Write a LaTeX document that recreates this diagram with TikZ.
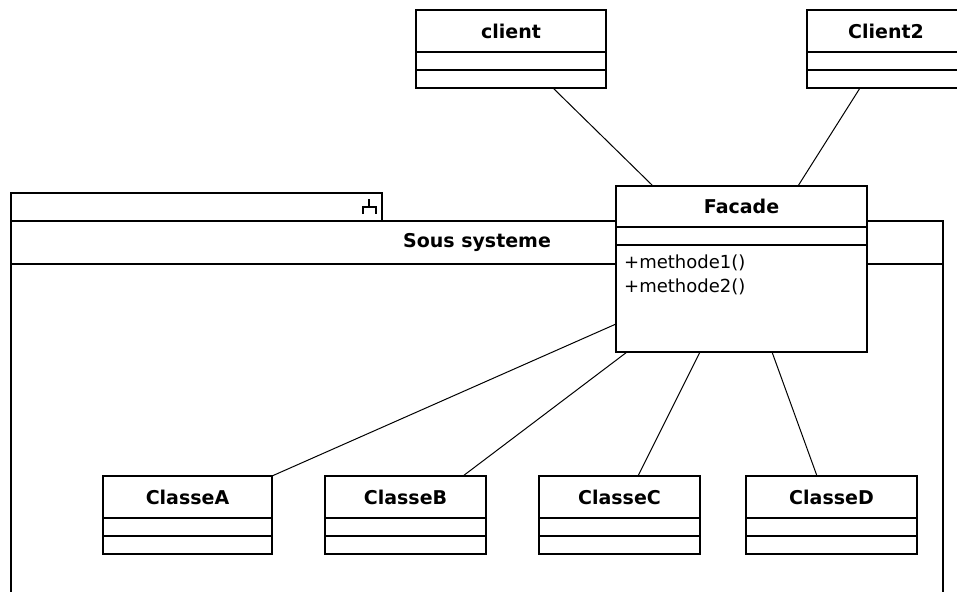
\documentclass[tikz,border=0pt]{standalone}
\usepackage{fontspec}
\setmainfont{DejaVu Sans}
\usepackage{tikz}
\usetikzlibrary{positioning}

\tikzset{
  clstitle/.style={draw, line width=1.3pt, fill=white, inner sep=0pt, outer sep=0pt,
    minimum height=42pt, font=\fontsize{19}{20}\selectfont\bfseries},
  clspart/.style={draw, line width=1.3pt, fill=white, inner sep=0pt, outer sep=0pt,
    minimum height=18pt},
  assoc/.style={line width=1pt}
}

\begin{document}
\begin{tikzpicture}[x=1pt, y=-1pt]
      \fill[white] (0,0) rectangle (957,591);
      \useasboundingbox (0,0) rectangle (957,591);

      % package
      \node[draw, line width=1.3pt, inner sep=0pt, outer sep=0pt, minimum width=371pt, minimum height=28pt] (pkgtab) at (196.5,207) {};
      \draw[line width=1.3pt] (11,600) -- (11,221) -- (943,221) -- (943,600);
      \draw[line width=1.3pt] (11,264) -- (943,264);
      \node[font=\fontsize{19}{20}\selectfont\bfseries] (pkgname) at (477,242.5) {Sous systeme};
      \draw[line width=1.3pt] (369,199) -- (369,207) (363,214) -- (363,207) -- (376,207) -- (376,214);

      % clients
      \node[clstitle, minimum width=190pt] (client) at (511,31) {client};
      \node[clspart, minimum width=190pt, below=0pt of client] (clientA) {};
      \node[clspart, minimum width=190pt, below=0pt of clientA] (clientO) {};

      \node[clstitle, minimum width=158pt] (client2) at (886,31) {Client2};
      \node[clspart, minimum width=158pt, below=0pt of client2] (client2A) {};
      \node[clspart, minimum width=158pt, below=0pt of client2A] (client2O) {};

      % facade
      \node[clstitle, minimum width=251pt, minimum height=41pt] (facade) at (741.5,206.5) {Facade};
      \node[clspart, minimum width=251pt, below=0pt of facade] (facadeA) {};
      \node[clspart, minimum width=251pt, minimum height=107pt, below=0pt of facadeA] (facadeO) {};
      \node[anchor=north west, align=left, inner sep=0pt, font=\fontsize{18}{24}\selectfont] (methods)
        at ([xshift=8pt,yshift=-10pt]facadeO.north west) {+methode1()\\+methode2()};

      % classes of the subsystem
      \node[clstitle, minimum width=169pt] (classeA) at (187.5,497) {ClasseA};
      \node[clspart, minimum width=169pt, below=0pt of classeA] (classeAA) {};
      \node[clspart, minimum width=169pt, below=0pt of classeAA] (classeAO) {};

      \node[clstitle, minimum width=161pt] (classeB) at (405.5,497) {ClasseB};
      \node[clspart, minimum width=161pt, below=0pt of classeB] (classeBA) {};
      \node[clspart, minimum width=161pt, below=0pt of classeBA] (classeBO) {};

      \node[clstitle, minimum width=161pt] (classeC) at (619.5,497) {ClasseC};
      \node[clspart, minimum width=161pt, below=0pt of classeC] (classeCA) {};
      \node[clspart, minimum width=161pt, below=0pt of classeCA] (classeCO) {};

      \node[clstitle, minimum width=171pt] (classeD) at (831.5,497) {ClasseD};
      \node[clspart, minimum width=171pt, below=0pt of classeD] (classeDA) {};
      \node[clspart, minimum width=171pt, below=0pt of classeDA] (classeDO) {};

      % associations
      \draw[assoc] ([xshift=42pt]clientO.south) -- ([xshift=37pt]facade.north west);
      \draw[assoc] ([xshift=-26pt]client2O.south) -- ([xshift=182pt]facade.north west);
      \draw[assoc] ([yshift=-25.5pt]facadeO.west) -- (classeA.north east);
      \draw[assoc] ([xshift=11pt]facadeO.south west) -- ([xshift=57.5pt]classeB.north);
      \draw[assoc] ([xshift=84pt]facadeO.south west) -- ([xshift=18.5pt]classeC.north);
      \draw[assoc] ([xshift=156pt]facadeO.south west) -- ([xshift=-14.5pt]classeD.north);
\end{tikzpicture}
\end{document}
